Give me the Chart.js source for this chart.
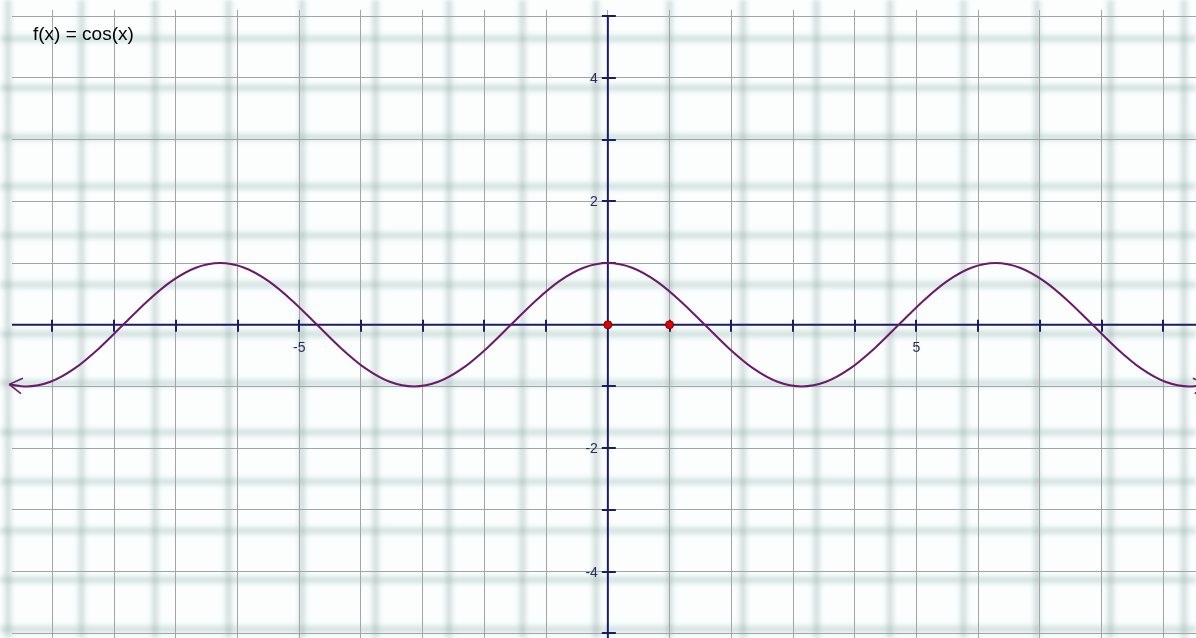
<!DOCTYPE html>
<html lang="en">
<head>
    <meta charset="UTF-8">
    <title>f(x) = cos(x)</title>
    <script src="https://cdn.jsdelivr.net/npm/chart.js"></script>
    <style>
        html, body { margin: 0; padding: 0; overflow: hidden; background: #fcfefe; }
        /* blurry graph paper behind the plot */
        .paper {
            position: absolute; left: 0; top: 0; width: 1196px; height: 638px;
            filter: blur(2px);
            background-image:
                repeating-linear-gradient(90deg, transparent 0px, transparent 1.5px, rgba(185,230,222,0.18) 4px, rgba(110,130,130,0.26) 6.5px, rgba(110,130,130,0.26) 9.5px, rgba(185,230,222,0.18) 12px, transparent 14.5px, transparent 73.5px),
                repeating-linear-gradient(180deg, transparent 0px, transparent 32.2px, rgba(185,230,222,0.2) 34.7px, rgba(90,135,128,0.24) 37.2px, rgba(90,135,128,0.24) 40.2px, rgba(185,230,222,0.2) 42.7px, transparent 45.2px, transparent 49.2px);
        }
        #graph { position: absolute; left: 0; top: 0; }
    </style>
</head>
<body>
    <div class="paper"></div>
    <canvas id="graph" width="1196" height="638"></canvas>

    <script>
        // cos(x)
        const curveX = [-9.7, -9.4248, -9.0321, -8.6394, -8.2467, -7.854, -7.4613, -7.0686, -6.6759,
            -6.2832, -5.8905, -5.4978, -5.1051, -4.7124, -4.3197, -3.927, -3.5343, -3.1416,
            -2.7489, -2.3562, -1.9635, -1.5708, -1.1781, -0.7854, -0.3927, 0,
            0.3927, 0.7854, 1.1781, 1.5708, 1.9635, 2.3562, 2.7489, 3.1416,
            3.5343, 3.927, 4.3197, 4.7124, 5.1051, 5.4978, 5.8905, 6.2832,
            6.6759, 7.0686, 7.4613, 7.854, 8.2467, 8.6394, 9.0321, 9.4248, 9.7];
        const curveY = [-0.966, -1, -0.924, -0.707, -0.383, 0, 0.383, 0.707, 0.924,
            1, 0.924, 0.707, 0.383, 0, -0.383, -0.707, -0.924, -1,
            -0.924, -0.707, -0.383, 0, 0.383, 0.707, 0.924, 1,
            0.924, 0.707, 0.383, 0, -0.383, -0.707, -0.924, -1,
            -0.924, -0.707, -0.383, 0, 0.383, 0.707, 0.924, 1,
            0.924, 0.707, 0.383, 0, -0.383, -0.707, -0.924, -1, -0.966];

        // the two red points
        const pointX = [0, 1];
        const pointY = [0, 0];

        // labelled ticks
        const xTickLabels = [-5, 5];
        const yTickLabels = [4, 2, -2, -4];
        const funcLabel = 'f(x) = cos(x)';

        const axisColor = '#1c1c66';
        const curveColor = '#6a1a6a';
        const labelColor = '#2a2a58';

        // axes through the origin, tick crosses and their labels
        const originAxes = {
            id: 'originAxes',
            beforeDatasetsDraw(chart) {
                const { ctx, chartArea, scales: { x, y } } = chart;
                const ox = x.getPixelForValue(0);
                const oy = y.getPixelForValue(0);
                ctx.save();
                ctx.strokeStyle = axisColor;
                ctx.lineWidth = 2;
                ctx.beginPath();
                ctx.moveTo(chartArea.left, oy);
                ctx.lineTo(chartArea.right, oy);
                ctx.moveTo(ox, y.getPixelForValue(y.ticks[y.ticks.length - 1].value));
                ctx.lineTo(ox, chartArea.bottom);
                x.ticks.forEach(t => {
                    if (t.value === 0) return;
                    const px = Math.round(x.getPixelForValue(t.value));
                    ctx.moveTo(px, oy - 5);
                    ctx.lineTo(px, oy + 7);
                });
                y.ticks.forEach(t => {
                    if (t.value === 0) return;
                    const py = Math.round(y.getPixelForValue(t.value));
                    ctx.moveTo(ox - 6, py);
                    ctx.lineTo(ox + 8, py);
                });
                ctx.stroke();

                ctx.fillStyle = labelColor;
                ctx.font = '14px "Liberation Sans", Arial, sans-serif';
                ctx.textAlign = 'center';
                ctx.textBaseline = 'middle';
                xTickLabels.forEach(v => ctx.fillText(String(v), x.getPixelForValue(v), oy + 23));
                ctx.textAlign = 'right';
                yTickLabels.forEach(v => ctx.fillText(String(v), ox - 10, y.getPixelForValue(v) + 1));
                ctx.restore();
            },
            afterDatasetsDraw(chart) {
                // open arrow heads at both ends of the curve
                const { ctx } = chart;
                const pts = chart.getDatasetMeta(0).data;
                const ends = [[pts[0], pts[1]], [pts[pts.length - 1], pts[pts.length - 2]]];
                ctx.save();
                ctx.strokeStyle = curveColor;
                ctx.lineWidth = 1.6;
                ctx.beginPath();
                ends.forEach(([tip, prev]) => {
                    const a = Math.atan2(prev.y - tip.y, prev.x - tip.x);
                    [-0.55, 0.55].forEach(d => {
                        ctx.moveTo(tip.x, tip.y);
                        ctx.lineTo(tip.x + 15 * Math.cos(a + d), tip.y + 15 * Math.sin(a + d));
                    });
                });
                ctx.stroke();
                ctx.restore();
            },
            afterDraw(chart) {
                const { ctx } = chart;
                ctx.save();
                ctx.fillStyle = '#000';
                ctx.font = '19px "Liberation Sans", Arial, sans-serif';
                ctx.textAlign = 'left';
                ctx.textBaseline = 'alphabetic';
                ctx.fillText(funcLabel, 33, 40);
                ctx.restore();
            }
        };

        const hiddenAxis = (min, max) => ({
            type: 'linear',
            min: min,
            max: max,
            ticks: { display: false, stepSize: 1, includeBounds: false },
            grid: { color: '#a4a4a4', lineWidth: 1, drawTicks: false },
            border: { display: false }
        });

        new Chart(document.getElementById('graph'), {
            type: 'scatter',
            data: {
                datasets: [{
                    data: curveX.map((x, i) => ({ x: x, y: curveY[i] })),
                    showLine: true,
                    borderColor: curveColor,
                    borderWidth: 2,
                    pointRadius: 0,
                    cubicInterpolationMode: 'monotone',
                    clip: false
                }, {
                    data: pointX.map((x, i) => ({ x: x, y: pointY[i] })),
                    pointRadius: 4,
                    backgroundColor: '#e00000',
                    borderColor: '#800000',
                    borderWidth: 1
                }]
            },
            options: {
                responsive: false,
                animation: false,
                devicePixelRatio: 1,
                layout: { autoPadding: false, padding: { left: 12, top: 10, right: 0, bottom: 0 } },
                plugins: { legend: { display: false }, tooltip: { enabled: false } },
                scales: {
                    x: hiddenAxis(-9.655, 9.53),
                    y: hiddenAxis(-5.075, 5.1)
                }
            },
            plugins: [originAxes]
        });
    </script>
</body>
</html>
